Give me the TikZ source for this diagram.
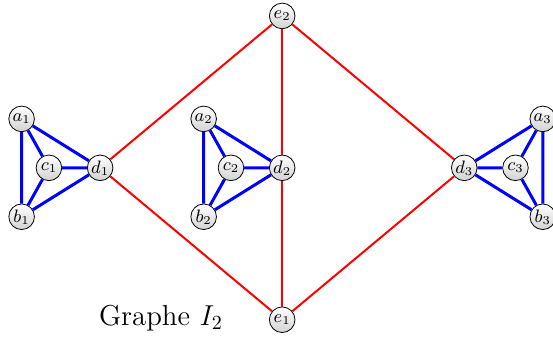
\documentclass[tikz,border=0pt]{standalone}
\begin{document}
\begin{tikzpicture}[
  vertex/.style={draw,circle,inner sep=0pt,minimum size=4.5mm,top color=white,bottom color=gray!35,font=\small},
  blueedge/.style={blue,line width=1.5pt},
  rededge/.style={red,line width=1pt}]
\useasboundingbox (-4.96,-2.97) rectangle (4.76,2.95);
\node[vertex](e2) at (0,2.67){$e_2$};
\node[vertex](e1) at (0,-2.67){$e_1$};
\foreach \i/\x/\s in {1/-3.2/-1,2/0/-1,3/3.2/1}{
  \node[vertex](d\i) at (\x,0){$d_\i$};
  \node[vertex](c\i) at (\x+\s*0.9,0){$c_\i$};
  \node[vertex](a\i) at (\x+\s*1.38,0.86){$a_\i$};
  \node[vertex](b\i) at (\x+\s*1.38,-0.86){$b_\i$};
  \draw[blueedge](a\i)--(b\i) (a\i)--(c\i) (a\i)--(d\i) (b\i)--(c\i) (b\i)--(d\i) (c\i)--(d\i);
  \draw[rededge](e2)--(d\i)--(e1);
}
\node[font=\Large](titre) at (-2.13,-2.64){Graphe $I_2$};
\end{tikzpicture}
\end{document}
